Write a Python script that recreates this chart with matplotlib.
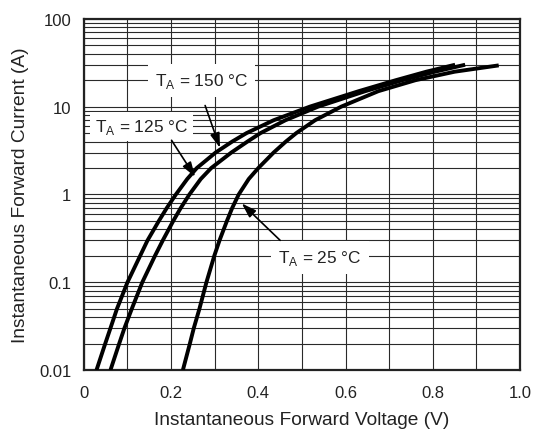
import matplotlib
matplotlib.use("Agg")
import matplotlib.pyplot as plt
from matplotlib.ticker import FixedLocator, NullFormatter

plt.rcParams['font.family'] = ['Liberation Sans', 'DejaVu Sans']

# Read-off data (forward current in A, forward voltage in V)
current_150 = [0.01, 0.02, 0.03, 0.05, 0.1, 0.2, 0.3, 0.5, 0.7, 1, 1.5, 2, 3, 4, 5, 7, 10, 15, 20, 25, 30]
voltage_150 = [0.029, 0.049, 0.061, 0.076, 0.100, 0.129, 0.146, 0.172, 0.190, 0.211, 0.237,
               0.259, 0.302, 0.340, 0.373, 0.435, 0.518, 0.630, 0.715, 0.785, 0.851]

current_125 = [0.01, 0.02, 0.03, 0.05, 0.1, 0.2, 0.3, 0.5, 0.7, 1, 1.5, 2, 3, 4, 5, 7, 10, 15, 20, 25, 30]
voltage_125 = [0.061, 0.081, 0.093, 0.110, 0.134, 0.163, 0.181, 0.205, 0.222, 0.242, 0.268,
               0.292, 0.338, 0.375, 0.405, 0.462, 0.537, 0.645, 0.730, 0.805, 0.874]

current_25 = [0.01, 0.02, 0.03, 0.05, 0.1, 0.2, 0.3, 0.5, 0.7, 1, 1.5, 2, 3, 4, 5, 7, 10, 15, 20, 25, 29.5]
voltage_25 = [0.227, 0.243, 0.252, 0.265, 0.281, 0.299, 0.311, 0.328, 0.340, 0.355, 0.378,
              0.400, 0.435, 0.463, 0.487, 0.530, 0.590, 0.675, 0.760, 0.850, 0.951]

x_ticks = [0, 0.2, 0.4, 0.6, 0.8, 1.0]
x_tick_labels = ['0', '0.2', '0.4', '0.6', '0.8', '1.0']
y_ticks = [0.01, 0.1, 1, 10, 100]
y_tick_labels = ['0.01', '0.1', '1', '10', '100']

labels = [r'T$_\mathregular{A}$ = 150 °C', r'T$_\mathregular{A}$ = 125 °C', r'T$_\mathregular{A}$ = 25 °C']

fig = plt.figure(figsize=(5.34, 4.31), dpi=100)
ax = fig.add_axes([0.157, 0.139, 0.817, 0.815])

ax.set_yscale('log')
ax.set_xlim(0, 1.0)
ax.set_ylim(0.01, 100)

tc = '#222222'
gc = '#2a2a2a'

# grid
ax.xaxis.set_major_locator(FixedLocator(x_ticks))
ax.xaxis.set_minor_locator(FixedLocator([0.1, 0.3, 0.5, 0.7, 0.9]))
ax.set_xticklabels(x_tick_labels)
ax.yaxis.set_major_locator(FixedLocator(y_ticks))
minors = [m * 10.0 ** e for e in range(-2, 2) for m in range(2, 10)]
ax.yaxis.set_minor_locator(FixedLocator(minors))
ax.yaxis.set_minor_formatter(NullFormatter())
ax.set_yticklabels(y_tick_labels)
ax.grid(True, which='both', color=gc, lw=0.8)
ax.set_axisbelow(True)
ax.tick_params(which='both', length=0, labelsize=12, colors=tc, pad=9)
ax.tick_params(axis='x', pad=11)

for s in ax.spines.values():
    s.set_linewidth(1.6)
    s.set_color('#222222')

for v, c in ((voltage_150, current_150), (voltage_125, current_125), (voltage_25, current_25)):
    ax.plot(v, c, color='black', lw=2.8, solid_capstyle='butt', solid_joinstyle='round', zorder=3)

ap = dict(arrowstyle='-|>,head_length=0.55,head_width=0.18', color='black', lw=1.2,
          mutation_scale=16, shrinkA=0, shrinkB=0)
bb = dict(boxstyle='square,pad=0.4', fc='white', ec='none')

ax.text(0.27, 19.9, labels[0], ha='center', va='center', fontsize=12.4, color=tc, bbox=bb, zorder=4)
ax.annotate('', xy=(0.312, 3.4), xytext=(0.278, 10.3), arrowprops=ap, zorder=4)

ax.text(0.132, 5.9, labels[1], ha='center', va='center', fontsize=12.4, color=tc,
        bbox=dict(boxstyle='square,pad=0.3', fc='white', ec='none'), zorder=4)
ax.annotate('', xy=(0.255, 1.59), xytext=(0.201, 4.14), arrowprops=ap, zorder=4)

ax.text(0.541, 0.192, labels[2], ha='center', va='center', fontsize=12.4, color=tc, bbox=bb, zorder=4)
ax.annotate('', xy=(0.362, 0.79), xytext=(0.45, 0.30), arrowprops=ap, zorder=4)

ax.set_xlabel('Instantaneous Forward Voltage (V)', fontsize=13.8, color=tc, labelpad=8)
ax.set_ylabel('Instantaneous Forward Current (A)', fontsize=13.8, color=tc, labelpad=7)

fig.savefig('out.png', dpi=100)
